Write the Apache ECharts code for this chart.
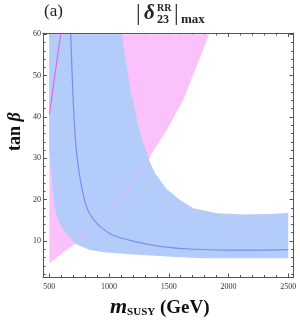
<!DOCTYPE html>
<html>
<head>
<meta charset="utf-8">
<script src="https://cdn.jsdelivr.net/npm/echarts@6/dist/echarts.min.js"></script>
<style>
html,body{margin:0;padding:0;background:#fff;}
#c{width:300px;height:325px;}
</style>
</head>
<body>
<div id="c"></div>
<script>
// ---- data ----
const xMajorTicks = [500, 1000, 1500, 2000, 2500];
const xMinorTicks = [600,700,800,900,1100,1200,1300,1400,1600,1700,1800,1900,2100,2200,2300,2400];
const yMajorTicks = [10, 20, 30, 40, 50, 60];
const yMinorTicks = [2,4,6,8,12,14,16,18,22,24,26,28,32,34,36,38,42,44,46,48,52,54,56,58];

// pink allowed region (boundary polygon: m_SUSY, tan beta)
const pinkRegion = [[500,60],[500,4.6],[715,9.4],[900,14.3],[1120,21.0],[1315,28.8],[1342,30.5],[1482,36.8],[1621,44.1],[1838,60]];
// pink boundary visible through the blue region
const pinkEdge = [[715,9.4],[900,14.3],[1120,21.0],[1315,28.8],[1342,30.5]];
// blue allowed region (boundary polygon)
const blueRegion = [[500,60],[1106,60],[1175,47.3],[1259,36],[1343,29],[1385,26.4],[1482,22.6],[1594,19.9],[1705,17.9],[1901,16.7],[2123,16.4],[2347,16.5],[2500,16.8],
  [2500,5.8],[1803,5.8],[1510,6.2],[1426,6.4],[1259,6.6],[980,7.2],[840,7.8],[743,9.0],[715,9.4],
  [631,12.2],[600,13.5],[562,15.9],[548,17.9],[528,22.3],[514,27.2],[506,30],[500,31.5]];
// dark blue curve
const blueCurve = [[679,60],[701,43.3],[724,32.5],[757,25.2],[790,20.5],[830,17.0],[910,13.9],[1036,11.4],[1259,9.6],[1426,8.7],[1705,8.0],[1984,7.8],[2250,7.8],[2500,7.9]];
// magenta line
const magentaLine = [[500,40.6],[595,60]];

const X_MIN = 447, X_MAX = 2544, Y_MIN = 1.17, Y_MAX = 60.31;
const SERIF = '"Liberation Serif","DejaVu Serif",serif';
const FRAME = '#555';

function polySeries(pts, color, z) {
  return {
    type: 'custom', z: z, silent: true,
    data: [0],
    renderItem: function (params, api) {
      const points = pts.map(p => api.coord(p));
      return { type: 'polygon', shape: { points: points }, style: { fill: color, stroke: null } };
    }
  };
}

function xAx(pos, ticks, len, showLine, labels) {
  return {
    type: 'value', position: pos, min: X_MIN, max: X_MAX,
    axisLine: { show: showLine, onZero: false, lineStyle: { color: FRAME, width: 1 } },
    axisTick: { show: true, inside: true, length: len, customValues: ticks, lineStyle: { color: FRAME } },
    axisLabel: labels ? { show: true, customValues: ticks, formatter: v => String(v), fontFamily: SERIF, fontSize: 8, color: '#333', margin: 5 } : { show: false },
    splitLine: { show: false }
  };
}
function yAx(pos, ticks, len, showLine, labels) {
  return {
    type: 'value', position: pos, min: Y_MIN, max: Y_MAX,
    axisLine: { show: showLine, onZero: false, lineStyle: { color: FRAME, width: 1 } },
    axisTick: { show: true, inside: true, length: len, customValues: ticks, lineStyle: { color: FRAME } },
    axisLabel: labels ? { show: true, customValues: ticks, formatter: v => String(v), fontFamily: SERIF, fontSize: 8, color: '#333', margin: 2 } : { show: false },
    splitLine: { show: false }
  };
}

const chart = echarts.init(document.getElementById('c'), null, { renderer: 'canvas' });
chart.setOption({
  animation: false,
  grid: { left: 43, right: 6.5, top: 33, bottom: 47.5, containLabel: false },
  xAxis: [
    xAx('bottom', xMajorTicks, 4, true, true),
    xAx('bottom', xMinorTicks, 2.5, false, false),
    xAx('top', xMajorTicks, 4, true, false),
    xAx('top', xMinorTicks, 2.5, false, false)
  ],
  yAxis: [
    yAx('left', yMajorTicks, 4, true, true),
    yAx('left', yMinorTicks, 2.5, false, false),
    yAx('right', yMajorTicks, 4, true, false),
    yAx('right', yMinorTicks, 2.5, false, false)
  ],
  series: [
    polySeries(pinkRegion, '#fbc1fb', 1),
    polySeries(blueRegion, '#b4ccfa', 2),
    { type: 'line', data: pinkEdge, showSymbol: false, smooth: false, z: 3, silent: true,
      lineStyle: { color: '#e4b4f2', width: 1 } },
    { type: 'line', data: blueCurve, showSymbol: false, smooth: 0.35, z: 4, silent: true,
      lineStyle: { color: '#7391ee', width: 1.2 } },
    { type: 'line', data: magentaLine, showSymbol: false, z: 4, silent: true,
      lineStyle: { color: '#e558e5', width: 1 } }
  ],
  graphic: [
    { type: 'text', left: 44, top: 3, style: { text: '(a)', font: '17px ' + SERIF, fill: '#222' } },
    { type: 'text', x: 136, y: 2, style: { text: '|', font: '23px ' + SERIF, fill: '#222' } },
    { type: 'text', x: 144, y: 3, style: { text: 'δ', font: 'italic bold 21px ' + SERIF, fill: '#222' } },
    { type: 'text', x: 157, y: 3, style: { text: 'RR', font: 'bold 10px ' + SERIF, fill: '#222' } },
    { type: 'text', x: 157, y: 14, style: { text: '23', font: 'bold 12px ' + SERIF, fill: '#222' } },
    { type: 'text', x: 174, y: 2, style: { text: '|', font: '23px ' + SERIF, fill: '#222' } },
    { type: 'text', x: 181, y: 13, style: { text: 'max', font: 'bold 13px ' + SERIF, fill: '#222' } },
    { type: 'text', x: 110, y: 296,
      style: { text: '{m|m}{s|SUSY}{g| (GeV)}', fill: '#111',
        rich: { m: { font: 'italic bold 22px ' + SERIF, verticalAlign: 'bottom' },
                s: { font: 'bold 11px ' + SERIF, verticalAlign: 'bottom', padding: [0, 0, 0, 0] },
                g: { font: 'bold 19px ' + SERIF, verticalAlign: 'bottom' } } } },
    { type: 'text', x: 6, y: 151, rotation: Math.PI / 2,
      style: { text: '{a|tan }{b|β}', fill: '#111',
        rich: { a: { font: 'bold 18px ' + SERIF }, b: { font: 'italic bold 18px ' + SERIF } } } }
  ]
});
</script>
</body>
</html>
